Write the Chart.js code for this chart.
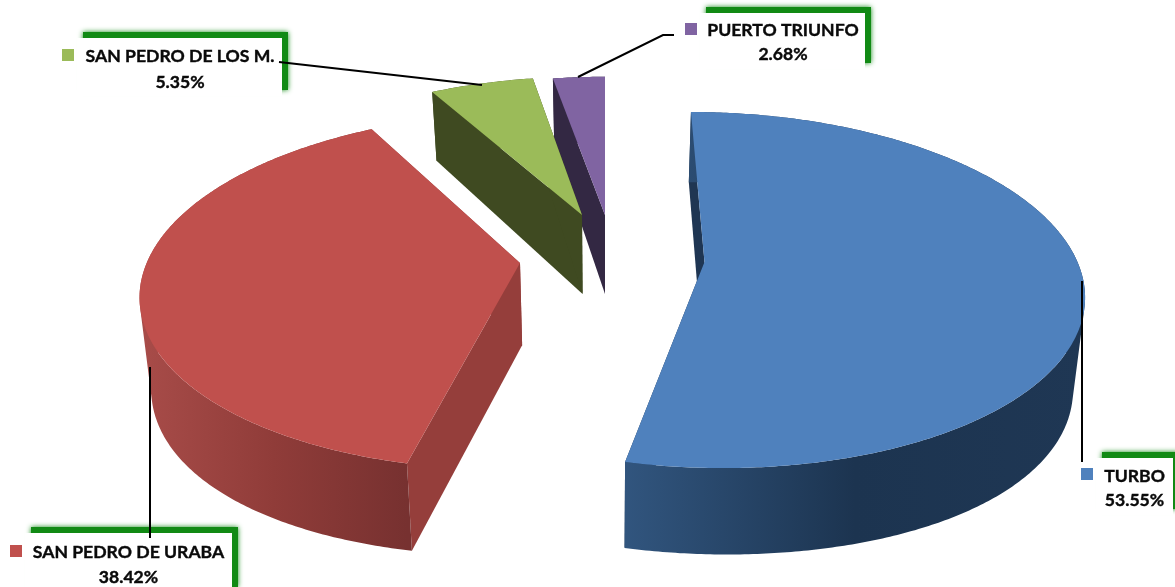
<!DOCTYPE html>
<html>
<head>
<meta charset="utf-8">
<title>Participación por municipio</title>
<script src="https://cdn.jsdelivr.net/npm/chart.js@4/dist/chart.umd.min.js"></script>
<style>
  html, body { margin: 0; padding: 0; background: #fff; }
  canvas { display: block; }
</style>
</head>
<body>
<canvas id="pie" width="1175" height="587"></canvas>
<script>
// data
var categories = ['TURBO', 'SAN PEDRO DE URABA', 'SAN PEDRO DE LOS M.', 'PUERTO TRIUNFO'];
var shares = [53.55, 38.42, 5.35, 2.68];
var topColors = ['#4f81bd', '#c0504d', '#9bbb59', '#8064a2'];
var faceColors = ['#1f3653', '#953e3b', '#3f4a21', '#332843'];
var wallStops = [
  ['#31557e', '#1c3450', '#1f3754'],
  ['#a84c49', '#903c39', '#773130'],
  ['#3f4a21', '#3f4a21', '#3f4a21'],
  ['#332843', '#332843', '#332843']
];

// view: a small perspective, the pie lies on a plane and is seen from the front
var CX = 605, CY = 262, RX = 373, RY = 173.6, K = 0.1575;
// where each slice's tip lands on the page (explosion)
var tipX = [704.5, 520, 582, 605];
var tipY = [262, 263, 215, 215];
// painter's order, back to front
var drawOrder = [3, 2, 1, 0];

// label boxes: white box, square, two text lines, leader line
var boxRects = [[1096, 458, 77, 57], [25, 533, 207, 60], [77, 38, 205, 58], [700, 13, 165, 56]];
var squareAt = [[1081, 468], [10, 545], [62, 49], [685, 23]];
var textAt = [[1134.5, 482, 506], [128.5, 558, 583], [180, 62, 88], [783, 36, 60]];
var leaders = [
  [[1082, 281], [1082, 462]],
  [[150, 367], [150, 538]],
  [[279, 62], [482, 85]],
  [[578, 77], [663, 35], [674, 35]]
];

function project(u, v) {
  var w = 1 / (1 - K * v);
  return [CX + RX * u * w, CY + RY * v * w];
}

function tipWorld(x, y) {
  var v = (y - CY) / (RY + K * (y - CY));
  return [(x - CX) * (1 - K * v) / RX, v];
}

// top plane point -> same point on the bottom plane
function drop(p) {
  var y = p[1];
  var side = (p[0] - CX) / 478;
  var dy = 68 + 0.0833 * (y - 95) - 0.000172 * (y - 95) * (y - 263) + 8 * side * side;
  return [CX + (p[0] - CX) * 0.975, y + dy];
}

function addPoly(ctx, pts) {
  pts.forEach(function (p, i) {
    if (i === 0) ctx.moveTo(p[0], p[1]); else ctx.lineTo(p[0], p[1]);
  });
  ctx.closePath();
}

function tracePoly(ctx, pts) {
  ctx.beginPath();
  addPoly(ctx, pts);
}

function signedArea(q) {
  var sum = 0;
  for (var i = 0; i < q.length; i++) {
    var a = q[i], b = q[(i + 1) % q.length];
    sum += a[0] * b[1] - b[0] * a[1];
  }
  return sum;
}

function drawSlice(ctx, arc, i) {
  var tw = tipWorld(tipX[i], tipY[i]);
  var rim = [];
  var steps = Math.max(6, Math.ceil((arc.endAngle - arc.startAngle) / 0.01));
  for (var s = 0; s <= steps; s++) {
    var a = arc.startAngle + (arc.endAngle - arc.startAngle) * s / steps;
    rim.push(project(tw[0] + Math.cos(a), tw[1] + Math.sin(a)));
  }
  var tip = [tipX[i], tipY[i]];
  var first = rim[0], last = rim[rim.length - 1];

  // radial faces
  ctx.fillStyle = faceColors[i];
  tracePoly(ctx, [tip, first, drop(first), drop(tip)]);
  ctx.fill();
  tracePoly(ctx, [tip, last, drop(last), drop(tip)]);
  ctx.fill();

  // outer wall: one quad per rim step, all wound the same way so they add up
  var xs = rim.map(function (p) { return p[0]; });
  var x0 = Math.min.apply(null, xs), x1 = Math.max.apply(null, xs);
  var grad = ctx.createLinearGradient(x0, 0, x1, 0);
  grad.addColorStop(0, wallStops[i][0]);
  grad.addColorStop(0.5, wallStops[i][1]);
  grad.addColorStop(1, wallStops[i][2]);
  ctx.fillStyle = grad;
  ctx.beginPath();
  for (var n = 0; n < rim.length - 1; n++) {
    var quad = [rim[n], rim[n + 1], drop(rim[n + 1]), drop(rim[n])];
    if (signedArea(quad) < 0) quad.reverse();
    addPoly(ctx, quad);
  }
  ctx.fill();

  // top
  ctx.fillStyle = arc.options.backgroundColor;
  tracePoly(ctx, [tip].concat(rim));
  ctx.fill();
}

var pie3d = {
  id: 'pie3d',
  beforeDatasetDraw: function (chart) {
    var ctx = chart.ctx;
    var arcs = chart.getDatasetMeta(0).data;
    ctx.save();
    drawOrder.forEach(function (i) { drawSlice(ctx, arcs[i], i); });
    ctx.restore();
    return false;
  },
  afterDraw: function (chart) {
    var ctx = chart.ctx;
    ctx.save();
    categories.forEach(function (name, i) {
      var b = boxRects[i];
      // green edge peeking out top and right of the white box
      ctx.save();
      ctx.shadowColor = '#118a14';
      ctx.shadowBlur = 5;
      ctx.fillStyle = '#118a14';
      ctx.fillRect(b[0] + 6, b[1] - 6, b[2], b[3]);
      ctx.restore();
      ctx.fillStyle = '#fff';
      ctx.fillRect(b[0], b[1], b[2], b[3]);

      ctx.fillStyle = topColors[i];
      ctx.fillRect(squareAt[i][0], squareAt[i][1], 12, 12);

      ctx.fillStyle = '#0a0a0a';
      ctx.strokeStyle = '#0a0a0a';
      ctx.lineWidth = 0.4;
      ctx.font = '700 17.6px Lato';
      ctx.textAlign = 'center';
      ctx.textBaseline = 'alphabetic';
      ctx.fillText(name, textAt[i][0], textAt[i][1]);
      ctx.strokeText(name, textAt[i][0], textAt[i][1]);
      var pct = shares[i].toFixed(2) + '%';
      ctx.fillText(pct, textAt[i][0], textAt[i][2]);
      ctx.strokeText(pct, textAt[i][0], textAt[i][2]);
    });
    ctx.strokeStyle = '#000';
    ctx.lineWidth = 2;
    leaders.forEach(function (pts) {
      ctx.beginPath();
      pts.forEach(function (p, j) {
        if (j === 0) ctx.moveTo(p[0], p[1]); else ctx.lineTo(p[0], p[1]);
      });
      ctx.stroke();
    });
    ctx.restore();
  }
};

new Chart(document.getElementById('pie'), {
  type: 'pie',
  data: {
    labels: categories,
    datasets: [{ data: shares, backgroundColor: topColors, borderWidth: 0 }]
  },
  options: {
    responsive: false,
    animation: false,
    rotation: 0,
    layout: { padding: 0 },
    plugins: { legend: { display: false }, tooltip: { enabled: false } }
  },
  plugins: [pie3d]
});
</script>
</body>
</html>
